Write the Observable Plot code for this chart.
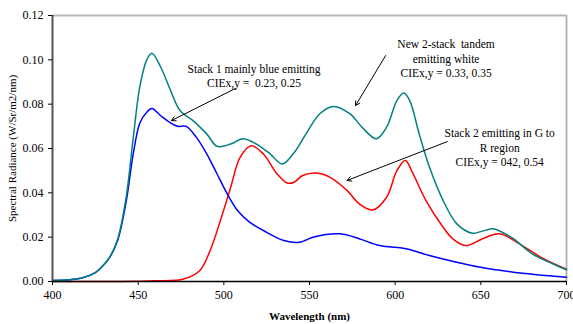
<!DOCTYPE html>
<html>
<head>
<meta charset="utf-8">
<script src="https://cdn.jsdelivr.net/npm/d3@7"></script>
<script src="https://cdn.jsdelivr.net/npm/@observablehq/plot@0.6"></script>
<style>
  html, body { margin: 0; padding: 0; background: #fff; }
  #chart svg { font-family: "Liberation Serif", "Times New Roman", serif; }
  g[aria-label="x-axis label"] text { font-weight: bold; }
  g[aria-label="x-axis tick label"] text, g[aria-label="y-axis tick label"] text { font-size: 12px; }
</style>
</head>
<body>
<div id="chart"></div>
<script>
// Tandem white (teal)
const whiteNm  = [400, 410, 418, 425, 428, 433, 438, 443, 447, 451, 455, 458, 463, 469, 474.5, 482, 490, 496, 504, 511, 519, 527, 534, 540.5, 548, 556, 564, 573.5, 581, 589, 595, 601, 605, 608.5, 614, 620, 628, 636, 645, 650, 657, 663, 669, 680, 692, 700];
const whiteVal = [0.0005, 0.0008, 0.0018, 0.004, 0.006, 0.0105, 0.019, 0.038, 0.064, 0.088, 0.100, 0.103, 0.097, 0.086, 0.077, 0.0726, 0.0666, 0.061, 0.062, 0.0644, 0.062, 0.0576, 0.053, 0.0576, 0.0666, 0.0757, 0.079, 0.0757, 0.0693, 0.0644, 0.0696, 0.0816, 0.085, 0.0816, 0.0666, 0.0516, 0.0365, 0.026, 0.0218, 0.0225, 0.0238, 0.022, 0.0193, 0.0125, 0.008, 0.0053];
// Stack 1 (blue)
const blueNm  = [400, 410, 418, 425, 428, 433, 438, 443, 447, 451, 455, 458, 463, 468, 473, 478, 484, 490, 496, 502, 508, 515, 525, 535, 544, 552, 558, 568, 579, 591, 607, 620, 636, 649, 669, 700];
const blueVal = [0.0005, 0.0008, 0.0018, 0.004, 0.006, 0.0104, 0.0185, 0.036, 0.057, 0.0715, 0.0764, 0.078, 0.0749, 0.072, 0.070, 0.070, 0.065, 0.0576, 0.0486, 0.0395, 0.032, 0.0268, 0.0222, 0.0185, 0.0177, 0.020, 0.021, 0.0215, 0.0193, 0.0162, 0.0147, 0.0117, 0.0087, 0.0065, 0.0042, 0.0019];
// Stack 2 (red)
const redNm  = [400, 440, 460, 476, 486, 492, 498, 504, 509.5, 516, 523, 531, 537, 541, 546, 554, 562, 572, 579, 587, 595, 601, 606, 610, 618, 628, 634, 641.5, 651, 661, 672.5, 686, 700];
const redVal = [0, 0, 0.0003, 0.001, 0.005, 0.014, 0.0275, 0.0425, 0.056, 0.0612, 0.0576, 0.0486, 0.0444, 0.0448, 0.0478, 0.0489, 0.047, 0.041, 0.035, 0.0323, 0.038, 0.050, 0.0546, 0.0493, 0.0365, 0.0245, 0.019, 0.0162, 0.0193, 0.0215, 0.017, 0.0105, 0.0055];

const xTicks = [400, 450, 500, 550, 600, 650, 700];
const yTicks = [0, 0.02, 0.04, 0.06, 0.08, 0.10, 0.12];

// Annotations
const noteText = ["Stack 1 mainly blue emitting\nCIEx,y =  0.23, 0.25",
                  "New 2-stack  tandem\nemitting white\nCIEx,y = 0.33, 0.35",
                  "Stack 2 emitting in G to\nR region\nCIEx,y = 042, 0.54"];
const noteX = [517.6, 629.7, 661];
const noteY = [0.0931, 0.1008, 0.0606];
const arrowX1 = [506.8, 594.4, 630.4];
const arrowY1 = [0.0871, 0.1019, 0.0631];
const arrowX2 = [469.5, 576.9, 572];
const arrowY2 = [0.0726, 0.0794, 0.0456];

const white = whiteNm.map((x, i) => ({x, y: whiteVal[i]}));
const blue = blueNm.map((x, i) => ({x, y: blueVal[i]}));
const red = redNm.map((x, i) => ({x, y: redVal[i]}));
const notes = noteText.map((t, i) => ({t, x: noteX[i], y: noteY[i]}));
const arrows = arrowX1.map((x1, i) => ({x1, y1: arrowY1[i], x2: arrowX2[i], y2: arrowY2[i]}));

const chart = Plot.plot({
  width: 573,
  height: 324,
  marginLeft: 52,
  marginRight: 7,
  marginTop: 15,
  marginBottom: 43,
  style: {fontSize: "11px", fontFamily: "'Liberation Serif', 'Times New Roman', serif", color: "#000", background: "#fff"},
  x: {domain: [400, 700]},
  y: {domain: [0, 0.12]},
  marks: [
    Plot.ruleY([0.12], {stroke: "#b5b5b5", strokeWidth: 2}),
    Plot.ruleX([700], {stroke: "#b5b5b5", strokeWidth: 2}),
    Plot.line(red, {x: "x", y: "y", stroke: "#ff0000", strokeWidth: 1.5, curve: "catmull-rom"}),
    Plot.line(blue, {x: "x", y: "y", stroke: "#0000ff", strokeWidth: 1.5, curve: "catmull-rom"}),
    Plot.line(white, {x: "x", y: "y", stroke: "#008080", strokeWidth: 1.5, curve: "catmull-rom"}),
    Plot.ruleX([400], {stroke: "#555", strokeWidth: 2}),
    Plot.ruleY([0], {stroke: "#000", strokeWidth: 1.5}),
    Plot.axisX({ticks: xTicks, tickSize: 4, tickPadding: 5, tickFormat: d => String(d), label: "Wavelength (nm)", labelAnchor: "center", labelArrow: "none", labelOffset: 38}),
    Plot.axisY({ticks: yTicks, tickSize: 4, tickPadding: 5, tickFormat: d3.format(".2f"), label: "Spectral Radiance (W/Sr/m2/nm)", labelAnchor: "center", labelArrow: "none", labelOffset: 44}),
    Plot.arrow(arrows, {x1: "x1", y1: "y1", x2: "x2", y2: "y2", stroke: "#000", strokeWidth: 1, headLength: 7}),
    Plot.text(notes, {x: "x", y: "y", text: "t", fontSize: 11.5, fill: "#000", lineHeight: 1.27, textAnchor: "middle", frameAnchor: "middle"})
  ]
});
document.getElementById("chart").appendChild(chart);
</script>
</body>
</html>
